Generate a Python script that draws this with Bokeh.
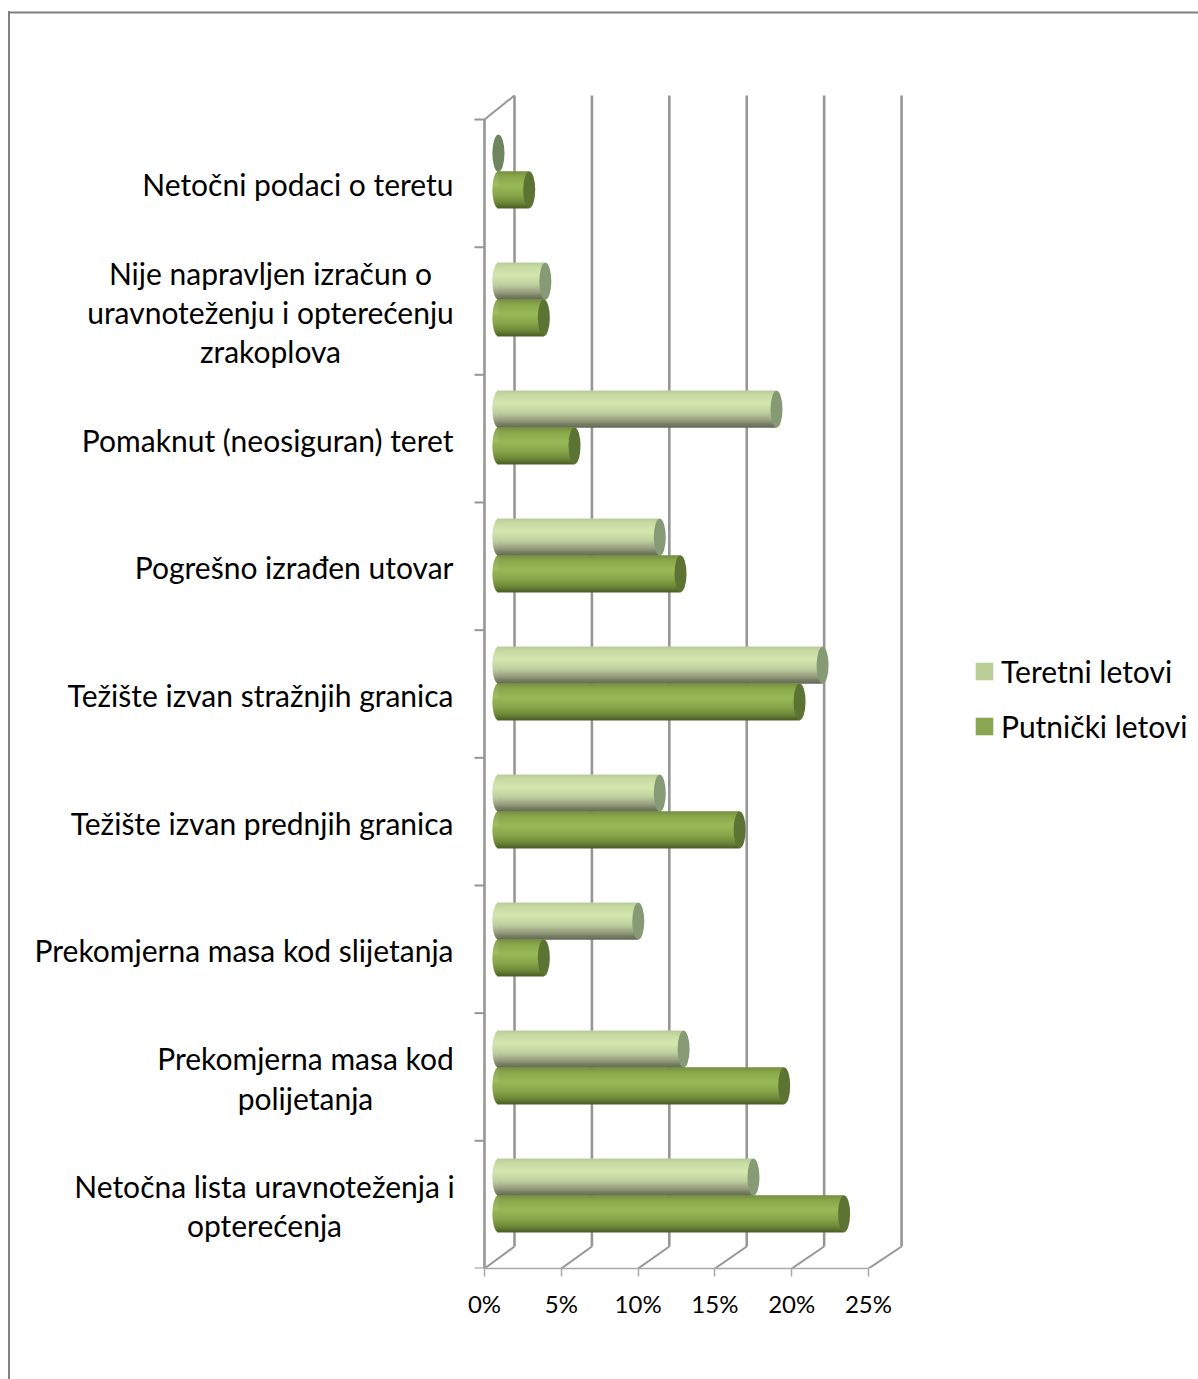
import numpy as np
from bokeh.plotting import figure
from bokeh.embed import file_html
from bokeh.resources import INLINE
from bokeh.models import Range1d, FixedTicker, Legend, LegendItem, BoxAnnotation
from bokeh.core.properties import value

# ---- data (bottom category first) ----
categories = [
    "Netočna lista uravnoteženja i\nopterećenja",
    "Prekomjerna masa kod\npolijetanja",
    "Prekomjerna masa kod slijetanja",
    "Težište izvan prednjih granica",
    "Težište izvan stražnjih granica",
    "Pogrešno izrađen utovar",
    "Pomaknut (neosiguran) teret",
    "Nije napravljen izračun o\nuravnoteženju i opterećenju\nzrakoplova",
    "Netočni podaci o teretu",
]
teretni = [16.6, 12.05, 9.1, 10.5, 21.1, 10.5, 18.1, 3.05, 0.0]
putnicki = [22.5, 18.6, 2.95, 15.7, 19.6, 11.85, 4.95, 2.95, 2.0]
x_ticks = [0, 5, 10, 15, 20, 25]
x_tick_labels = ["0%", "5%", "10%", "15%", "20%", "25%"]
series_names = ["Teretni letovi", "Putnički letovi"]

# ---- styling ----
W, H = 1198, 1379
PCT = 15.36          # px per percent
CAT = 127.67         # px per category
LEFT_PX = 484        # zero line, px in figure
BOTTOM = 111
FH = H - BOTTOM
FONT = "Lato"
GRID = "#969696"
TEXT = "#000000"
LABEL_SIZE = "30px"
depth_x = 30 / PCT
depth_floor, depth_top = 22 / CAT, 24 / CAT
back_scale = 1.008
bar_x0 = 14 / PCT
bar_h = 36.7 / CAT
bar_base = 73 / CAT    # boundary between the two bars of the lowest group
bar_pitch = 128 / CAT
cap_w = 12 / PCT

stops_t = [(0, "#b7cb98"), (0.12, "#c6daa3"), (0.35, "#d3e7ae"), (0.6, "#bfd09e"), (0.8, "#969e80"), (0.93, "#70765f"), (1, "#5d6350")]
stops_p = [(0, "#6f8a3a"), (0.12, "#86a349"), (0.38, "#9abb58"), (0.65, "#88a64b"), (0.85, "#6d8836"), (1, "#4c5f26")]
cap_t, cap_p = "#879a76", "#5d7333"
legend_t, legend_p = "#bacf98", "#8ba650"
zero_cap = "#6f8560"

def hex2rgb(h):
    return np.array([int(h[i:i + 2], 16) for i in (1, 3, 5)], float)

def ramp(stops, t):
    ts = [s[0] for s in stops]
    cs = np.array([hex2rgb(s[1]) for s in stops])
    c = [np.interp(t, ts, cs[:, k]) for k in range(3)]
    return "#%02x%02x%02x" % tuple(int(round(v)) for v in c)

p = figure(width=W, height=H, output_backend="svg", toolbar_location=None,
           x_range=Range1d(-LEFT_PX / PCT, (W - LEFT_PX) / PCT),
           y_range=Range1d(0, FH / CAT),
           y_axis_location=None, min_border_left=0, min_border_right=0,
           min_border_top=0, min_border_bottom=BOTTOM, outline_line_color=None,
           background_fill_alpha=0, border_fill_alpha=0,
           styles={"background-color": "white",
                   "background-image": "linear-gradient(#808080,#808080)",
                   "background-size": "2px 100%",
                   "background-position": "8px 11px",
                   "background-repeat": "no-repeat"})
p.grid.visible = False

ax = p.xaxis[0]
ax.ticker = FixedTicker(ticks=x_ticks)
ax.major_label_overrides = {t: l for t, l in zip(x_ticks, x_tick_labels)}
ax.bounds = (x_ticks[0], x_ticks[-1])
ax.major_tick_in = 0
ax.major_tick_out = 8
ax.minor_tick_in = 0
ax.minor_tick_out = 0
ax.major_label_standoff = 12
ax.axis_line_color = "#a8a8a8"
ax.axis_line_width = 1.5
ax.major_tick_line_color = "#a8a8a8"
ax.major_tick_line_width = 1.5
ax.major_label_text_font = FONT
ax.major_label_text_font_size = "24px"
ax.major_label_text_color = TEXT

n = len(categories)
xt = np.array(x_ticks, float)
xb = xt * back_scale + depth_x

# back wall verticals
p.segment(xb, depth_floor, xb, n + depth_top, line_color=GRID, line_width=2.6)
# floor diagonals
p.segment(xt, 0, xb, depth_floor, line_color=GRID, line_width=2)
# side wall: front vertical, top diagonal, tick marks
p.segment([0], [0], [0], [n], line_color=GRID, line_width=2.6)
p.segment([0], [n], [depth_x], [n + depth_top], line_color=GRID, line_width=2)
tk = np.arange(n + 1)
p.segment(-10 / PCT, tk, 0, tk, line_color=GRID, line_width=2)

# cylinders
def cylinders(vals, side, stops, cap, zero_col):
    rows = 37
    y, l, r, col = [], [], [], []
    centers = [bar_base + i * bar_pitch + side * bar_h / 2 for i in range(len(vals))]
    # opaque body below the shading strips, so no wall line shows between strips
    p.hbar(y=centers, height=bar_h * 0.96, left=[bar_x0] * len(vals), right=[bar_x0 + v for v in vals],
           fill_color=ramp(stops, 0.5), fill_alpha=1, line_color=None)
    for c, v in zip(centers, vals):
        for k in range(rows):
            t = (k + 0.5) / rows
            s = 2 * t - 1
            y.append(c + bar_h / 2 - t * bar_h)
            l.append(bar_x0 - cap_w / 2 * np.sqrt(max(1 - s * s, 0)))
            r.append(bar_x0 + v)
            col.append(ramp(stops, t))
    p.hbar(y=y, height=bar_h / rows * 1.5, left=l, right=r, fill_color=col, fill_alpha=1, line_color=None)
    caps = [cap if v > 0 else zero_col for v in vals]
    p.ellipse(x=[bar_x0 + v for v in vals], y=centers,
              width=cap_w, height=bar_h, fill_color=caps, fill_alpha=1, line_color=None)

cylinders(teretni, 1, stops_t, cap_t, zero_cap)
cylinders(putnicki, -1, stops_p, cap_p, zero_cap)

# category labels
label_dy = -1 / CAT
single = [i for i, c in enumerate(categories) if "\n" not in c]
multi = [i for i, c in enumerate(categories) if "\n" in c]
p.text(x=[-31 / PCT] * len(single), y=[i + 0.5 + label_dy for i in single],
       text=[categories[i] for i in single], text_align="right", text_baseline="middle",
       text_font=value(FONT), text_font_size=LABEL_SIZE, text_color=TEXT)
multi_centers = {0: 264, 1: 305, 7: 270}
p.text(x=[(multi_centers[i] - LEFT_PX) / PCT for i in multi], y=[i + 0.5 + label_dy for i in multi],
       text=[categories[i] for i in multi], text_align="center", text_baseline="middle",
       text_line_height=1.09,
       text_font=value(FONT), text_font_size=LABEL_SIZE, text_color=TEXT)

# legend (keys come from two off-range squares)
r1 = p.quad(left=[-500], right=[-499], top=[1], bottom=[0], fill_color=legend_t, fill_alpha=1, line_color=None)
r2 = p.quad(left=[-500], right=[-499], top=[1], bottom=[0], fill_color=legend_p, fill_alpha=1, line_color=None)
leg = Legend(items=[LegendItem(label=series_names[0], renderers=[r1]),
                    LegendItem(label=series_names[1], renderers=[r2])],
             location=(973, 524), orientation="vertical",
             glyph_width=22, glyph_height=22, label_standoff=6, spacing=19,
             padding=0, margin=0, border_line_color=None, background_fill_alpha=0,
             label_text_font=FONT, label_text_font_size=LABEL_SIZE, label_text_color=TEXT)
p.add_layout(leg)

# outer frame: top line (the left line is the page background)
p.add_layout(BoxAnnotation(left=8, right=W, top=FH - 11, bottom=FH - 13, left_units="screen", right_units="screen",
                           top_units="screen", bottom_units="screen", fill_color="#808080", fill_alpha=1, line_color=None))

open("out.html", "w").write(file_html(p, INLINE))
